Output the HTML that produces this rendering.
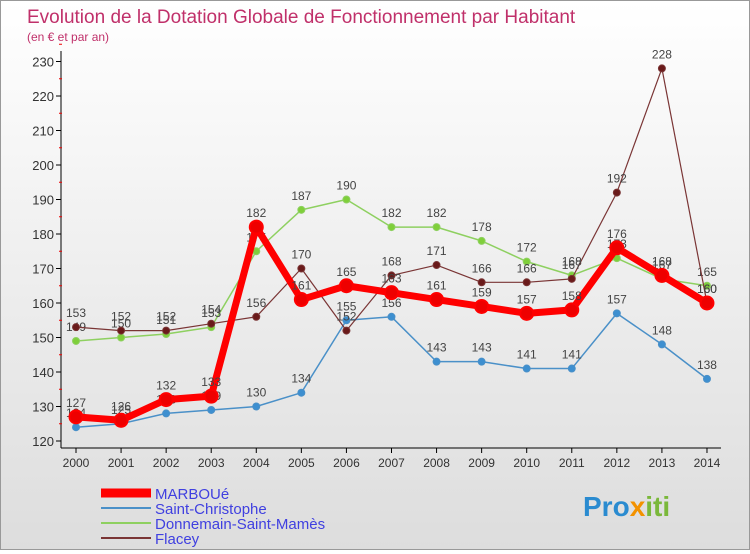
<!DOCTYPE html>
<html><head><meta charset="utf-8"><style>
body{margin:0;width:750px;height:550px;overflow:hidden;font-family:"Liberation Sans",sans-serif}
#wrap{position:relative;width:748px;height:548px;border:1px solid #999;background:linear-gradient(#fff,#ddd)}
</style></head><body>
<div id="wrap">
<svg id="svg" width="748" height="548" xmlns="http://www.w3.org/2000/svg">
<text x="26" y="22" font-size="19" fill="#c0306a">Evolution de la Dotation Globale de Fonctionnement par Habitant</text>
<text x="26" y="40" font-size="12" fill="#c0306a">(en € et par an)</text>
<g id="axes"></g><g id="series"></g>
<text x="582" y="515" font-size="28" font-weight="bold" fill="#2a8bd0">Pro<tspan fill="#f39200">x</tspan><tspan fill="#7ab83a">iti</tspan></text>
</svg></div>
<script>
const years=[2000,2001,2002,2003,2004,2005,2006,2007,2008,2009,2010,2011,2012,2013,2014];
const marboue=[127,126,132,133,182,161,165,163,161,159,157,158,176,168,160];
const saintChristophe=[124,125,128,129,130,134,155,156,143,143,141,141,157,148,138];
const donnemain=[149,150,151,153,175,187,190,182,182,178,172,168,173,167,165];
const flacey=[153,152,152,154,156,170,152,168,171,166,166,167,192,228,160];
const yTicks=[120,130,140,150,160,170,180,190,200,210,220,230];
const NS="http://www.w3.org/2000/svg";
const X=i=>75+i*45.07, Y=v=>440-(v-120)*3.45;
function mk(t,a,p){const e=document.createElementNS(NS,t);for(const k in a)e.setAttribute(k,a[k]);p.appendChild(e);return e;}
const ax=document.getElementById('axes'), sg=document.getElementById('series');
let l=mk('line',{x1:60,y1:50,x2:60,y2:447,stroke:'#000'},ax);


l=mk('line',{x1:60,y1:447,x2:720,y2:447,stroke:'#000'},ax);


yTicks.forEach(v=>{
 mk('line',{x1:55,y1:Y(v),x2:60,y2:Y(v),stroke:'#000'},ax);
 mk('line',{x1:58,y1:Y(v+5),x2:61,y2:Y(v+5),stroke:'#e00'},ax);
 const t=mk('text',{x:53,y:Y(v)+5,'font-size':13,fill:'#333','text-anchor':'end'},ax);t.textContent=v;
 
 
});
years.forEach((y,i)=>{
 mk('line',{x1:X(i),y1:447,x2:X(i),y2:452,stroke:'#000'},ax);
 const t=mk('text',{x:X(i),y:466,'font-size':12,fill:'#333','text-anchor':'middle'},ax);t.textContent=y;
 
 
});
function draw(vals,color,dot,w,r,name){
 const g=mk('g',{},sg);
 
 
 mk('polyline',{points:vals.map((v,i)=>X(i)+','+Y(v)).join(' '),fill:'none',stroke:color,'stroke-width':w,'stroke-linejoin':'round'},g);
 vals.forEach((v,i)=>{
  const c=mk('circle',{cx:X(i),cy:Y(v),r:r,fill:dot,stroke:color,'stroke-width':w>3?2:1},g);
  
  
  const t=mk('text',{x:X(i),y:Y(v)-10,'font-size':12,fill:'#444','text-anchor':'middle'},g);t.textContent=v;
  
  
 });
}
draw(saintChristophe,'#4a90c8','#3d8fd0',1.5,3.5,'series-saint-christophe');
draw(donnemain,'#8ed060','#7fcf3a',1.5,3.5,'series-donnemain');
draw(flacey,'#7a3535','#6a1a1a',1.2,3.5,'series-flacey');
draw(marboue,'#f00','#e00',7,6.5,'series-marboue');
const leg=[['MARBOUé','#f00',9],['Saint-Christophe','#4a90c8',2],['Donnemain-Saint-Mamès','#8ed060',2],['Flacey','#7a3535',2]];
leg.forEach((d,i)=>{
 const y=492+i*15;
 const g=mk('g',{},sg);
 
 
 mk('line',{x1:100,y1:y,x2:150,y2:y,stroke:d[1],'stroke-width':d[2]},g);
 const t=mk('text',{x:154,y:y+6,'font-size':15,fill:'#4040e0'},g);t.textContent=d[0];
});
</script>
</body></html>
